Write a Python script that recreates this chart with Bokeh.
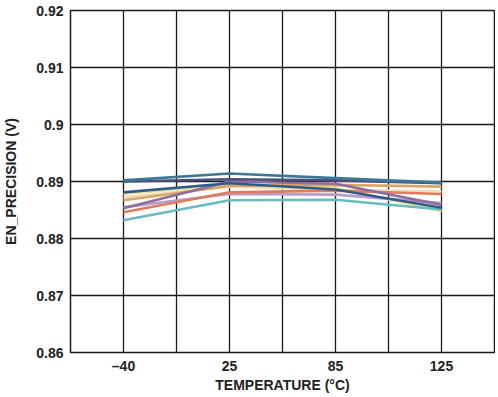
from bokeh.plotting import figure
from bokeh.models import FixedTicker, Range1d
from bokeh.embed import file_html
from bokeh.resources import INLINE

temps = ["–40", "25", "85", "125"]
y_ticks = [0.86, 0.87, 0.88, 0.89, 0.90, 0.91, 0.92]
y_tick_labels = ["0.86", "0.87", "0.88", "0.89", "0.9", "0.91", "0.92"]

s_steel = [0.8902, 0.8914, 0.8906, 0.8898]
s_navy = [0.8900, 0.8904, 0.8902, 0.8897]
s_darkblue = [0.8881, 0.8897, 0.8886, 0.8854]
s_yellow = [0.8878, 0.8894, 0.8889, 0.8848]
s_cream = [0.8872, 0.8891, 0.8885, 0.8883]
s_tan = [0.8867, 0.8892, 0.8894, 0.8891]
s_lavender = [0.8855, 0.8878, 0.8877, 0.8862]
s_mauve = [0.8853, 0.8900, 0.8896, 0.8859]
s_salmon = [0.8846, 0.8881, 0.8884, 0.8878]
s_teal = [0.8832, 0.8867, 0.8868, 0.8851]

series = [
    (s_cream, "#f3dcb4"),
    (s_yellow, "#eee39c"),
    (s_tan, "#d8a56b"),
    (s_lavender, "#b99cc8"),
    (s_salmon, "#e07c5e"),
    (s_mauve, "#8e6e9e"),
    (s_teal, "#68bcc1"),
    (s_darkblue, "#2f5b88"),
    (s_navy, "#4e4e7c"),
    (s_steel, "#3b7896"),
]

xs = [2 * i + 1 for i in range(len(temps))]

p = figure(width=495, height=395, output_backend="svg", toolbar_location=None,
           x_range=Range1d(0, 2 * len(temps)), y_range=Range1d(y_ticks[0], y_ticks[-1]),
           min_border_left=68, min_border_right=1, min_border_top=10, min_border_bottom=0)

p.background_fill_color = "white"
p.border_fill_color = "white"
p.outline_line_color = "#1a1a1a"
p.outline_line_width = 1.5

for vals, col in series:
    p.line(xs, vals, line_color=col, line_width=2.6)

p.xaxis.ticker = FixedTicker(ticks=xs)
p.xaxis.major_label_overrides = {x: t for x, t in zip(xs, temps)}
p.xgrid.ticker = FixedTicker(ticks=list(range(1, 2 * len(temps))))
p.yaxis.ticker = FixedTicker(ticks=y_ticks)
p.yaxis.major_label_overrides = {v: t for v, t in zip(y_ticks, y_tick_labels)}

for g in (p.xgrid, p.ygrid):
    g.grid_line_color = "#1a1a1a"
    g.grid_line_width = 1.3

for ax in (p.xaxis, p.yaxis):
    ax.axis_line_color = None
    ax.major_tick_line_color = None
    ax.minor_tick_line_color = None
    ax.major_tick_out = 0
    ax.major_tick_in = 0
    ax.major_label_text_font = "Liberation Sans"
    ax.major_label_text_font_style = "bold"
    ax.major_label_text_font_size = "14px"
    ax.major_label_text_color = "#222222"
    ax.axis_label_text_font = "Liberation Sans"
    ax.axis_label_text_font_style = "bold"
    ax.axis_label_text_font_size = "14px"
    ax.axis_label_text_color = "#222222"

p.xaxis.axis_label = "TEMPERATURE (°C)"
p.yaxis.axis_label = "EN_PRECISION (V)"
p.xaxis.major_label_standoff = 5
p.xaxis.axis_label_standoff = 0
p.yaxis.major_label_standoff = 7
p.yaxis.axis_label_standoff = 14

open("out.html", "w").write(file_html(p, INLINE))
